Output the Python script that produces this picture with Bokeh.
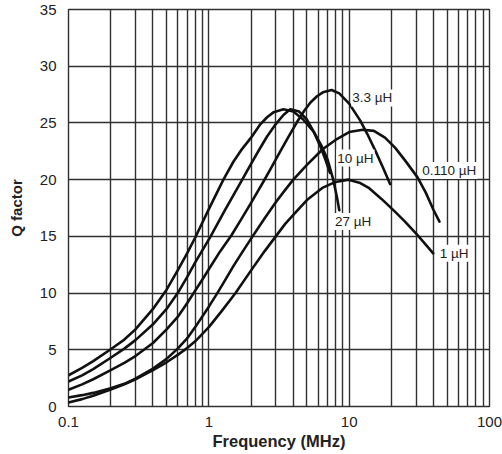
from bokeh.plotting import figure
from bokeh.models import Range1d, FixedTicker, ColumnDataSource
from bokeh.core.properties import value
from bokeh.embed import file_html
from bokeh.resources import INLINE

# ---- data (frequency in MHz, Q factor) ----
f_027 = [0.1, 0.125, 0.15, 0.2, 0.25, 0.3, 0.4, 0.5, 0.6, 0.7, 0.8, 1.0, 1.27, 1.5, 1.7, 2.0, 2.3, 2.6, 2.9, 3.4, 4.0, 4.7, 5.6, 6.4, 7.0, 7.7, 8.2, 8.5]
q_027 = [2.75, 3.4, 4.0, 5.05, 5.9, 6.8, 8.6, 10.3, 12.0, 13.5, 14.9, 17.4, 20.0, 21.6, 22.6, 23.7, 24.8, 25.5, 25.95, 26.2, 26.0, 25.3, 24.2, 22.9, 21.8, 20.0, 18.4, 17.3]

f_010 = [0.1, 0.125, 0.15, 0.2, 0.25, 0.3, 0.4, 0.5, 0.6, 0.7, 0.8, 1.03, 1.3, 1.71, 2.0, 2.3, 2.6, 3.0, 3.4, 3.8, 4.4, 5.0, 5.6, 6.2, 6.8, 7.3]
q_010 = [2.2, 2.75, 3.3, 4.3, 5.1, 5.85, 7.25, 8.6, 10.0, 11.4, 12.7, 15.0, 17.3, 19.9, 21.4, 22.7, 23.8, 24.9, 25.7, 26.2, 26.0, 25.3, 24.2, 23.0, 21.7, 20.6]

f_3p3 = [0.1, 0.125, 0.15, 0.2, 0.25, 0.3, 0.4, 0.5, 0.6, 0.7, 0.78, 0.9, 1.0, 1.2, 1.45, 1.7, 2.0, 2.47, 2.8, 3.2, 3.7, 4.26, 4.8, 5.3, 5.9, 6.5, 7.5, 8.5, 10.0, 12.0, 13.5, 15.3, 17.5, 19.6]
q_3p3 = [1.47, 1.95, 2.4, 3.2, 3.85, 4.45, 5.6, 6.8, 7.9, 9.1, 10.0, 11.2, 12.1, 13.65, 15.1, 16.5, 17.95, 19.9, 21.1, 22.4, 23.8, 25.1, 26.1, 26.8, 27.35, 27.7, 27.9, 27.6, 26.7, 25.2, 24.0, 22.6, 21.0, 19.6]

f_0p11 = [0.1, 0.125, 0.15, 0.2, 0.25, 0.3, 0.4, 0.5, 0.6, 0.7, 0.8, 1.0, 1.15, 1.3, 1.5, 1.75, 2.05, 2.5, 3.0, 3.5, 4.0, 5.0, 6.5, 8.0, 10.0, 12.5, 15.0, 18.0, 21.3, 25.0, 30.7, 35.0, 40.0, 44.0]
q_0p11 = [0.8, 1.0, 1.2, 1.6, 2.0, 2.45, 3.35, 4.2, 5.1, 6.0, 7.0, 8.8, 10.0, 11.1, 12.4, 13.7, 15.0, 16.6, 18.0, 19.1, 20.0, 21.3, 22.7, 23.5, 24.2, 24.4, 24.3, 23.7, 22.8, 21.7, 20.2, 18.9, 17.3, 16.3]

f_1 = [0.1, 0.125, 0.15, 0.2, 0.25, 0.3, 0.4, 0.5, 0.6, 0.7, 0.8, 1.0, 1.25, 1.55, 2.0, 2.5, 3.0, 3.5, 4.0, 5.0, 6.5, 8.0, 9.9, 12.0, 13.7, 17.0, 21.1, 25.0, 30.7, 35.0, 39.7]
q_1 = [0.35, 0.65, 0.95, 1.5, 1.95, 2.4, 3.2, 3.9, 4.55, 5.15, 5.75, 7.0, 8.5, 10.0, 12.0, 13.7, 15.0, 16.1, 16.9, 18.2, 19.3, 19.8, 20.0, 19.7, 19.3, 18.3, 17.2, 16.3, 15.1, 14.3, 13.5]

curve_names = ["27 µH", "10 µH", "3.3 µH", "0.110 µH", "1 µH"]

x_tick_values = [0.1, 1, 10, 100]
x_tick_labels = ["0.1", "1", "10", "100"]
y_tick_values = [0, 5, 10, 15, 20, 25, 30, 35]
y_tick_labels = ["0", "5", "10", "15", "20", "25", "30", "35"]

# ---- styling / layout ----
FONT = "Liberation Sans"
GRID = "#303030"
INK = "#111111"
TXT = "#222222"

p = figure(width=502, height=454, x_axis_type="log",
           x_range=Range1d(0.1, 100), y_range=Range1d(0, 35),
           output_backend="svg", toolbar_location=None,
           min_border_left=68, min_border_right=13, min_border_top=9, min_border_bottom=48)
p.background_fill_color = "white"
p.border_fill_color = "white"
p.outline_line_color = GRID
p.outline_line_width = 1.4

# grid lines: every decade and sub-decade step, every 5 in Q
grid_x = [m * 10.0 ** e for e in (-1, 0, 1) for m in range(1, 10)] + [100.0]
p.xgrid.ticker = FixedTicker(ticks=grid_x)
p.ygrid.ticker = FixedTicker(ticks=y_tick_values)
for g in (p.xgrid, p.ygrid):
    g.grid_line_color = GRID
    g.grid_line_width = 1.4
    g.grid_line_alpha = 1.0

p.xaxis.ticker = FixedTicker(ticks=x_tick_values)
p.xaxis.major_label_overrides = {v: t for v, t in zip(x_tick_values, x_tick_labels)}
p.yaxis.ticker = FixedTicker(ticks=y_tick_values)
p.yaxis.major_label_overrides = {v: t for v, t in zip(y_tick_values, y_tick_labels)}

for ax in (p.xaxis, p.yaxis):
    ax.axis_line_color = None
    ax.major_tick_line_color = None
    ax.minor_tick_line_color = None
    ax.major_tick_out = 0
    ax.minor_tick_out = 0
    ax.major_label_text_font = FONT
    ax.major_label_text_font_size = "15px"
    ax.major_label_text_color = TXT
    ax.axis_label_text_font = FONT
    ax.axis_label_text_font_style = "bold"
    ax.axis_label_text_color = TXT

p.xaxis.major_label_standoff = 10
p.yaxis.major_label_standoff = 12
p.xaxis.axis_label = "Frequency (MHz)"
p.xaxis.axis_label_text_font_size = "16.5px"
p.xaxis.axis_label_standoff = 2
p.yaxis.axis_label = "Q factor"
p.yaxis.axis_label_text_font_size = "15px"
p.yaxis.axis_label_standoff = 12

# curves
for fx, qy in [(f_027, q_027), (f_010, q_010), (f_3p3, q_3p3), (f_0p11, q_0p11), (f_1, q_1)]:
    p.line(fx, qy, line_color=INK, line_width=2.6, line_join="round", line_cap="round")

# curve labels
label_src = ColumnDataSource(dict(
    x=[7.8, 8.1, 10.35, 32.6, 43.5],
    y=[16.3, 21.9, 27.2, 20.8, 13.5],
    text=curve_names,
))
p.text(x="x", y="y", text="text", source=label_src,
       text_font=value(FONT), text_font_size="13.5px", text_color=TXT,
       text_align="left", text_baseline="middle",
       background_fill_color="white", padding=1)

open("out.html", "w").write(file_html(p, INLINE))
